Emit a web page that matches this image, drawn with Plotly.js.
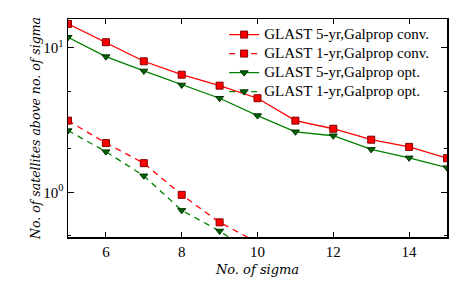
<!DOCTYPE html>
<html>
<head>
<script src="https://cdn.plot.ly/plotly-3.0.1.min.js"></script>
<style>html,body{margin:0;padding:0;background:#fff}</style>
</head>
<body>
<div id="chart" style="width:471px;height:291px"></div>
<script>
const sigma = [5, 6, 7, 8, 9, 10, 11, 12, 13, 14, 15];
const conv5yr = [14.6, 10.9, 8.05, 6.5, 5.46, 4.47, 3.13, 2.75, 2.31, 2.06, 1.72];
const opt5yr  = [11.8, 8.67, 6.9, 5.52, 4.47, 3.39, 2.62, 2.46, 1.98, 1.73, 1.48];
const sigma1yr = [5, 6, 7, 8, 9, 10];
const conv1yr = [3.13, 2.19, 1.59, 0.96, 0.62, 0.45];
const opt1yr  = [2.67, 1.91, 1.30, 0.75, 0.54, 0.36];
const names = ["GLAST 5-yr,Galprop conv.", "GLAST 1-yr,Galprop conv.", "GLAST 5-yr,Galprop opt.", "GLAST 1-yr,Galprop opt."];
const yTickVals = [1, 10];
const yTickText = ["10<sup>0</sup>", "10<sup>1</sup>"];
const xTickVals = [6, 8, 10, 12, 14];

const SERIF = "Liberation Serif, DejaVu Serif, serif";
const sq = {symbol: "square", size: 7, color: "#ff0000", line: {color: "#800000", width: 1}};
const tri = {symbol: "triangle-down", size: 7, color: "#006400", line: {color: "#003000", width: 1}};
const lg = n => '<span style="font-size:15px">' + n + '</span>';

const traces = [
  {x: sigma, y: conv5yr, name: lg(names[0]), mode: "lines+markers", line: {color: "#ff0000", width: 1.3}, marker: sq},
  {x: sigma1yr, y: conv1yr, name: lg(names[1]), mode: "lines+markers", line: {color: "#ff0000", width: 1.3, dash: "6px,5px"}, marker: sq},
  {x: sigma, y: opt5yr, name: lg(names[2]), mode: "lines+markers", line: {color: "#008000", width: 1.3}, marker: tri},
  {x: sigma1yr, y: opt1yr, name: lg(names[3]), mode: "lines+markers", line: {color: "#008000", width: 1.3, dash: "6px,5px"}, marker: tri}
];

const layout = {
  width: 471, height: 291,
  margin: {l: 68, r: 24, t: 19, b: 54},
  paper_bgcolor: "#fff", plot_bgcolor: "#fff",
  font: {family: SERIF, size: 14.5, color: "#000"},
  showlegend: true,
  legend: {x: 0.412, y: 0.995, xanchor: "left", yanchor: "top", bgcolor: "rgba(0,0,0,0)",
           font: {family: SERIF, size: 11.5}, tracegroupgap: 0, itemwidth: 30},
  xaxis: {
    range: [5, 15], tickvals: xTickVals, ticks: "inside", ticklen: 5, tickcolor: "#000",
    tickfont: {family: SERIF, size: 15},
    showline: true, linecolor: "#000", linewidth: 1.5, mirror: "ticks", showgrid: false, zeroline: false,
    title: {text: "<i>No. of sigma</i>", font: {family: "DejaVu Serif, serif", size: 13}, standoff: 6}
  },
  yaxis: {
    type: "log", range: [-0.309, 1.198], tickvals: yTickVals, ticktext: yTickText,
    ticks: "inside", ticklen: 6, tickcolor: "#000",
    tickfont: {family: SERIF, size: 15},
    minor: {ticks: "inside", ticklen: 3, tickcolor: "#000", dtick: "D2", showgrid: false},
    showline: true, linecolor: "#000", linewidth: 1.5, mirror: "ticks", showgrid: false, zeroline: false,
    title: {text: "<i>No. of satellites above no. of sigma</i>", font: {family: "DejaVu Serif, serif", size: 12.5}, standoff: 0}
  }
};
Plotly.newPlot("chart", traces, layout, {displayModeBar: false, staticPlot: true});
</script>
</body>
</html>
